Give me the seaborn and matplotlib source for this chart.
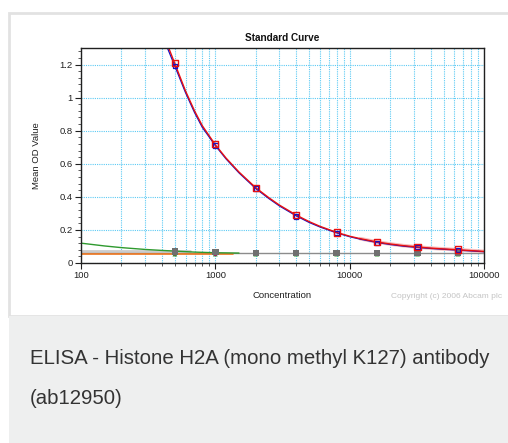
import numpy as np
import pandas as pd
import seaborn as sns
import matplotlib.pyplot as plt
from matplotlib import ticker
from matplotlib.patches import Rectangle

# standards (concentration vs mean OD)
conc = [500, 1000, 2000, 4000, 8000, 16000, 32000, 64000]
od_red = [1.21, 0.72, 0.455, 0.29, 0.185, 0.125, 0.098, 0.082]
od_blue = [1.19, 0.71, 0.45, 0.28, 0.18, 0.12, 0.095, 0.078]
od_gray = [0.071, 0.066, 0.060, 0.060, 0.060, 0.060, 0.060, 0.060]
od_green = [0.054, 0.054, 0.054, 0.054, 0.054, 0.054, 0.054, 0.054]
conc_mag = [500, 1000]
od_mag = [0.060, 0.057]

# fitted curves
fit_x = [440, 500, 600, 700, 800, 1000, 1200, 1500, 2000, 2500, 3000, 4000, 5000,
         6000, 8000, 10000, 12000, 16000, 20000, 25000, 32000, 40000, 50000, 64000,
         80000, 100000]
fit_red = [1.32, 1.205, 1.04, 0.92, 0.83, 0.715, 0.635, 0.55, 0.455, 0.395, 0.35,
           0.29, 0.25, 0.222, 0.185, 0.162, 0.147, 0.127, 0.115, 0.105, 0.097, 0.09,
           0.085, 0.08, 0.075, 0.07]
fit_blue = [1.30, 1.19, 1.03, 0.91, 0.82, 0.71, 0.63, 0.545, 0.45, 0.39, 0.345,
            0.285, 0.245, 0.218, 0.182, 0.159, 0.144, 0.124, 0.112, 0.102, 0.094,
            0.088, 0.083, 0.078, 0.073, 0.068]
green_x = [100, 150, 200, 300, 400, 500, 700, 1000, 1500]
green_y = [0.12, 0.103, 0.093, 0.082, 0.076, 0.072, 0.066, 0.062, 0.060]
blank_x = [100, 100000]
blank_y = [0.060, 0.060]
orange_x = [100, 1350]
orange_y = [0.055, 0.055]
pale_x = [100, 650]
pale_y = [0.071, 0.071]

sns.set_style("white")
plt.rcParams['font.family'] = ['Liberation Sans', 'DejaVu Sans']

W, H = 508, 443
fig = plt.figure(figsize=(W / 100, H / 100), dpi=100)

# page decoration: white card with grey frame, grey caption panel below
fig.patches.append(Rectangle((9 / W, (H - 316) / H), 600 / W, 303 / H, transform=fig.transFigure,
                             facecolor='white', edgecolor='#e2e2e2', lw=2.0, zorder=-2))
fig.patches.append(Rectangle((9 / W, 0), 600 / W, (H - 316) / H, transform=fig.transFigure,
                             facecolor='#eeefef', edgecolor='none', zorder=-1))

ax = fig.add_axes([81 / W, (H - 263) / H, 403 / W, 215 / H])
ax.set_xscale('log')
ax.set_xlim(100, 100000)
ax.set_ylim(0, 1.3)

grid_kw = dict(color='#5ccaf4', lw=0.8, ls=(0, (1, 1)))
ax.grid(True, which='both', axis='x', **grid_kw)
ax.grid(True, which='major', axis='y', **grid_kw)
ax.set_axisbelow(True)

sns.lineplot(x=pale_x, y=pale_y, ax=ax, color='#cccccc', lw=2.0)
sns.lineplot(x=blank_x, y=blank_y, ax=ax, color='#8c8c8c', lw=1.0)
sns.lineplot(x=orange_x, y=orange_y, ax=ax, color='#f07820', lw=1.2)
sns.lineplot(x=green_x, y=green_y, ax=ax, color='#2e9a2e', lw=1.0)
sns.lineplot(x=fit_x[16:], y=fit_red[16:], ax=ax, color='#f6bcbc', lw=2.6)
sns.lineplot(x=fit_x, y=fit_blue, ax=ax, color='#1010c8', lw=0.9)
sns.lineplot(x=fit_x, y=fit_red, ax=ax, color='#e81010', lw=1.0)

sns.scatterplot(x=conc, y=od_green, ax=ax, marker='^', s=12, color='#2e9a2e', edgecolor='none', zorder=4)
sns.scatterplot(x=conc_mag, y=od_mag, ax=ax, marker='o', s=12, color='#b0186a', edgecolor='none', zorder=4)
sns.scatterplot(x=conc, y=od_gray, ax=ax, marker='s', s=22, color='#707070', edgecolor='none', zorder=5)
sns.scatterplot(x=conc, y=od_blue, ax=ax, marker='s', s=10, facecolor='none', edgecolor='#1010c8', lw=0.9, zorder=6)
sns.scatterplot(x=conc, y=od_red, ax=ax, marker='s', s=20, facecolor='none', edgecolor='#e81010', lw=1.0, zorder=7)

for s in ax.spines.values():
    s.set_color('#202020')
    s.set_linewidth(1.0)

ax.yaxis.set_major_locator(ticker.MultipleLocator(0.2))
ax.yaxis.set_minor_locator(ticker.MultipleLocator(0.04))
ax.yaxis.set_major_formatter(ticker.FuncFormatter(lambda v, p: '0' if v == 0 else ('%g' % round(v, 1))))
ax.xaxis.set_major_locator(ticker.LogLocator(base=10))
ax.xaxis.set_minor_locator(ticker.LogLocator(base=10, subs=np.arange(2, 10)))
ax.xaxis.set_major_formatter(ticker.FuncFormatter(lambda v, p: '%d' % v))
ax.xaxis.set_minor_formatter(ticker.NullFormatter())
ax.tick_params(which='major', direction='out', length=4, width=0.8, labelsize=6.8,
               colors='#202020', left=True, bottom=True, pad=2)
ax.tick_params(which='minor', direction='out', length=2, width=0.6, left=True, bottom=True,
               colors='#404040')

ax.set_title('Standard Curve', fontsize=7.2, fontweight='bold', pad=5, color='#111111')
ax.set_xlabel('Concentration', fontsize=6.8, color='#202020')
ax.set_ylabel('Mean OD Value', fontsize=6.8, color='#202020')
ax.yaxis.set_label_coords(-0.1, 0.5)
ax.xaxis.set_label_coords(0.5, -0.13)

fig.text(502 / W, (H - 296) / H, 'Copyright (c) 2006 Abcam plc', fontsize=6.0, color='#c4c4c4',
         ha='right', va='center')

fig.text(30 / W, (H - 358) / H, 'ELISA - Histone H2A (mono methyl K127) antibody', fontsize=14.65,
         color='#333333', ha='left', va='center')
fig.text(30 / W, (H - 398) / H, '(ab12950)', fontsize=14.65, color='#333333', ha='left', va='center')

fig.savefig('out.png', dpi=100)
